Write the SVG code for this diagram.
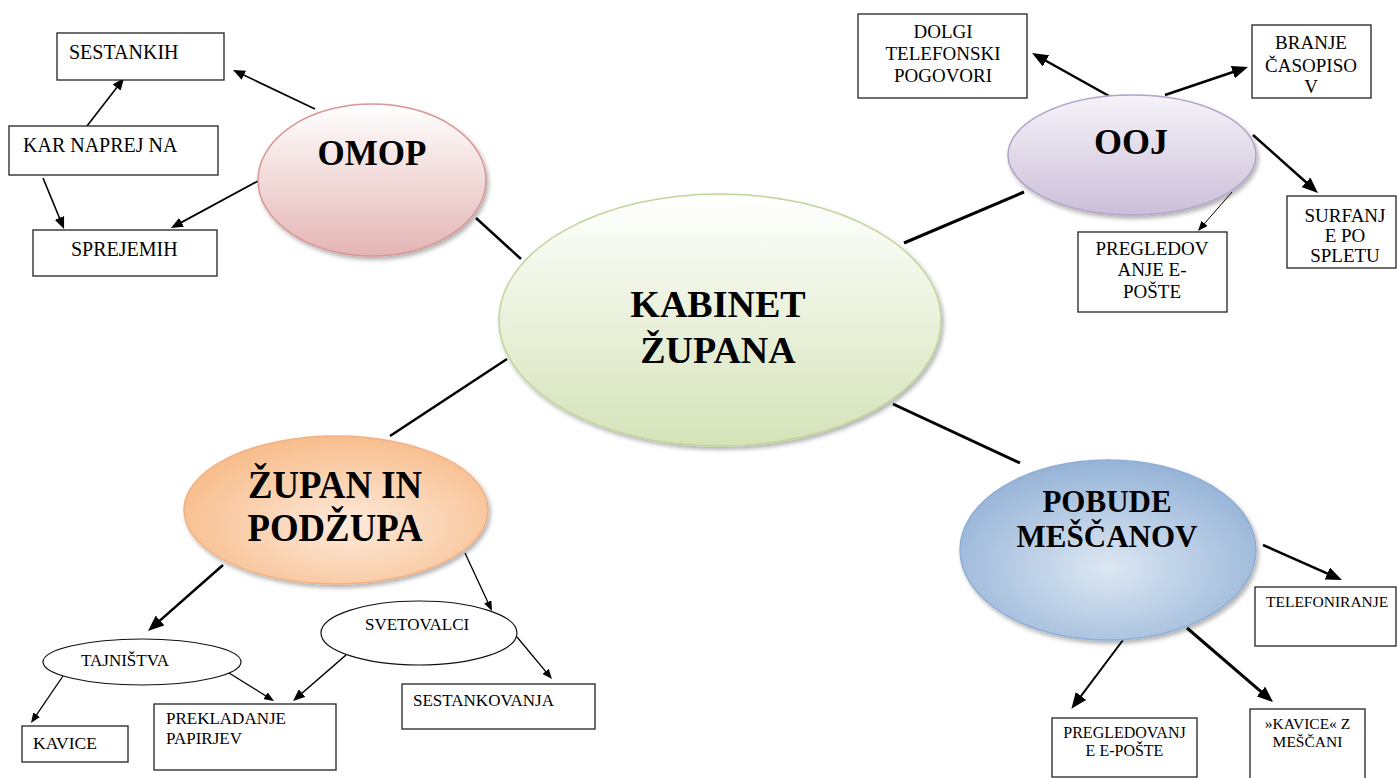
<svg xmlns="http://www.w3.org/2000/svg" width="1397" height="778" viewBox="0 0 1397 778">
<style>
.box{fill:#fff;stroke:#222;stroke-width:1.3}
.sm{fill:#fff;stroke:#111;stroke-width:1.2}
.t{font-family:"Liberation Serif","Times New Roman",serif;fill:#000}
.big{font-family:"Liberation Serif","Times New Roman",serif;font-weight:bold;fill:#000;text-anchor:middle}
.c{text-anchor:middle}
.ln{stroke:#000;fill:none}
</style>
<defs>
<marker id="hb" markerUnits="userSpaceOnUse" markerWidth="16" markerHeight="13" viewBox="0 0 16 13" refX="12" refY="6.5" orient="auto"><path d="M0,0 L16,6.5 L0,13 z" fill="#000"/></marker>
<marker id="hm" markerUnits="userSpaceOnUse" markerWidth="12" markerHeight="10" viewBox="0 0 12 10" refX="9" refY="5" orient="auto"><path d="M0,0 L12,5 L0,10 z" fill="#000"/></marker>
<marker id="hs" markerUnits="userSpaceOnUse" markerWidth="10" markerHeight="8" viewBox="0 0 10 8" refX="7.5" refY="4" orient="auto"><path d="M0,0 L10,4 L0,8 z" fill="#000"/></marker>
<linearGradient id="gGreen" x1="0" y1="0" x2="0" y2="1"><stop offset="0" stop-color="#ffffff"/><stop offset="1" stop-color="#d5e3b8"/></linearGradient>
<linearGradient id="gRed" x1="0" y1="0" x2="0" y2="1"><stop offset="0" stop-color="#ffffff"/><stop offset="1" stop-color="#e4b5b4"/></linearGradient>
<linearGradient id="gPurple" x1="0" y1="0" x2="0" y2="1"><stop offset="0" stop-color="#f6f3f9"/><stop offset="1" stop-color="#cbbfd9"/></linearGradient>
<radialGradient id="gOrange" cx="0.55" cy="0.6" r="0.6"><stop offset="0" stop-color="#fdeadb"/><stop offset="1" stop-color="#f8bd8c"/></radialGradient>
<radialGradient id="gBlue" cx="0.5" cy="0.6" r="0.6"><stop offset="0" stop-color="#dde7f3"/><stop offset="1" stop-color="#95b3d7"/></radialGradient>
<filter id="sh" x="-10%" y="-10%" width="125%" height="130%"><feDropShadow dx="2" dy="3" stdDeviation="2" flood-color="#000" flood-opacity="0.3"/></filter>
</defs>

<g id="connectors">
<line class="ln" x1="476" y1="218" x2="521" y2="259" stroke-width="2.5"/>
<line class="ln" x1="904" y1="243" x2="1024" y2="192" stroke-width="3"/>
<line class="ln" x1="507" y1="359" x2="390" y2="436" stroke-width="2.5"/>
<line class="ln" x1="893" y1="404" x2="1020" y2="463" stroke-width="3"/>

<line class="ln" x1="315" y1="109" x2="235.7" y2="71.3" stroke-width="1.6" marker-end="url(#hm)"/>
<line class="ln" x1="87" y1="126" x2="122.2" y2="80.4" stroke-width="1.6" marker-end="url(#hm)"/>
<line class="ln" x1="43" y1="178" x2="62.9" y2="226.2" stroke-width="1.6" marker-end="url(#hm)"/>
<line class="ln" x1="258" y1="181" x2="173.6" y2="226.6" stroke-width="1.8" marker-end="url(#hm)"/>

<line class="ln" x1="1109" y1="96" x2="1035.5" y2="55" stroke-width="2.5" marker-end="url(#hb)"/>
<line class="ln" x1="1165" y1="95" x2="1244.2" y2="68.3" stroke-width="2.5" marker-end="url(#hb)"/>
<line class="ln" x1="1253" y1="135" x2="1315" y2="190.3" stroke-width="2.5" marker-end="url(#hb)"/>
<line class="ln" x1="1232" y1="192" x2="1199.6" y2="229.1" stroke-width="1" marker-end="url(#hs)"/>

<line class="ln" x1="223" y1="565" x2="151" y2="628.4" stroke-width="2.5" marker-end="url(#hb)"/>
<line class="ln" x1="465" y1="553" x2="490.9" y2="608.7" stroke-width="1.3" marker-end="url(#hs)"/>
<line class="ln" x1="63" y1="676" x2="32.4" y2="720.9" stroke-width="1.3" marker-end="url(#hs)"/>
<line class="ln" x1="229" y1="673" x2="271.9" y2="699.7" stroke-width="1.3" marker-end="url(#hs)"/>
<line class="ln" x1="346" y1="655" x2="295.3" y2="699" stroke-width="1.6" marker-end="url(#hm)"/>
<line class="ln" x1="517" y1="637" x2="550.4" y2="677.1" stroke-width="1.3" marker-end="url(#hs)"/>

<line class="ln" x1="1263" y1="545" x2="1338.3" y2="578.4" stroke-width="2.5" marker-end="url(#hb)"/>
<line class="ln" x1="1123" y1="640" x2="1073.8" y2="705.6" stroke-width="2" marker-end="url(#hb)"/>
<line class="ln" x1="1187" y1="628" x2="1270" y2="699.4" stroke-width="3" marker-end="url(#hb)"/>
</g>

<g id="kabinet">
<ellipse cx="720" cy="320" rx="221" ry="126" fill="url(#gGreen)" stroke="#c0d59a" stroke-width="1.5" filter="url(#sh)"/>
<text class="big" x="718" y="317" font-size="38">KABINET</text>
<text class="big" x="718" y="363" font-size="38">ŽUPANA</text>
</g>

<g id="omop">
<ellipse cx="372" cy="180" rx="114" ry="76" fill="url(#gRed)" stroke="#d99694" stroke-width="1.5" filter="url(#sh)"/>
<text class="big" x="372" y="165" font-size="35">OMOP</text>
</g>

<g id="sestankih"><rect class="box" x="57" y="33" width="167" height="47"/><text class="t" x="69" y="59" font-size="20">SESTANKIH</text></g>
<g id="kar-naprej"><rect class="box" x="9" y="126" width="209" height="49"/><text class="t" x="23" y="152" font-size="20">KAR NAPREJ NA</text></g>
<g id="sprejemih"><rect class="box" x="33" y="230" width="184" height="46"/><text class="t" x="71" y="256" font-size="20">SPREJEMIH</text></g>

<g id="ooj">
<ellipse cx="1132" cy="155" rx="124" ry="60" fill="url(#gPurple)" stroke="#b3a2c8" stroke-width="1.5" filter="url(#sh)"/>
<text class="big" x="1131" y="154" font-size="36">OOJ</text>
</g>

<g id="dolgi"><rect class="box" x="858" y="14" width="169" height="84"/>
<text class="t c" x="943" y="38" font-size="19">DOLGI</text>
<text class="t c" x="943" y="60" font-size="19">TELEFONSKI</text>
<text class="t c" x="943" y="82" font-size="19">POGOVORI</text></g>

<g id="branje"><rect class="box" x="1252" y="25" width="119" height="73"/>
<text class="t c" x="1311" y="49" font-size="19">BRANJE</text>
<text class="t c" x="1311" y="72" font-size="19">ČASOPISO</text>
<text class="t c" x="1311" y="93" font-size="19">V</text></g>

<g id="pregledov"><rect class="box" x="1078" y="232" width="149" height="80"/>
<text class="t c" x="1152" y="255" font-size="19">PREGLEDOV</text>
<text class="t c" x="1152" y="276" font-size="19">ANJE E-</text>
<text class="t c" x="1152" y="298" font-size="19">POŠTE</text></g>

<g id="surfanje"><rect class="box" x="1287" y="196" width="109" height="72"/>
<text class="t c" x="1345" y="222" font-size="19">SURFANJ</text>
<text class="t c" x="1345" y="242" font-size="19">E PO</text>
<text class="t c" x="1345" y="262" font-size="19">SPLETU</text></g>

<g id="zupan">
<ellipse cx="336" cy="510" rx="152" ry="74" fill="url(#gOrange)" stroke="#f2b184" stroke-width="1.5" filter="url(#sh)"/>
<text class="big" x="335" y="498" font-size="39" textLength="174" lengthAdjust="spacingAndGlyphs">ŽUPAN IN</text>
<text class="big" x="335" y="541" font-size="39" textLength="175" lengthAdjust="spacingAndGlyphs">PODŽUPA</text>
</g>

<g id="tajnistva"><ellipse class="sm" cx="142" cy="662" rx="99" ry="23"/><text class="t" x="81" y="666" font-size="17">TAJNIŠTVA</text></g>
<g id="svetovalci"><ellipse class="sm" cx="419" cy="633" rx="98" ry="32"/><text class="t" x="365" y="630" font-size="17">SVETOVALCI</text></g>
<g id="kavice"><rect class="box" x="22" y="726" width="106" height="36"/><text class="t" x="33" y="749" font-size="17.5">KAVICE</text></g>
<g id="prekladanje"><rect class="box" x="154" y="704" width="182" height="66"/>
<text class="t" x="166" y="724" font-size="17">PREKLADANJE</text>
<text class="t" x="166" y="744" font-size="17">PAPIRJEV</text></g>
<g id="sestankovanja"><rect class="box" x="402" y="684" width="193" height="45"/><text class="t" x="413" y="706" font-size="17">SESTANKOVANJA</text></g>

<g id="pobude">
<ellipse cx="1108" cy="550" rx="148" ry="90" fill="url(#gBlue)" stroke="#8faed5" stroke-width="1.5" filter="url(#sh)"/>
<text class="big" x="1107" y="512" font-size="31">POBUDE</text>
<text class="big" x="1107" y="547" font-size="31">MEŠČANOV</text>
</g>

<g id="telefoniranje"><rect class="box" x="1255" y="587" width="141" height="59"/><text class="t" x="1266" y="607" font-size="15.5">TELEFONIRANJE</text></g>
<g id="pregledovanje"><rect class="box" x="1052" y="718" width="145" height="59"/>
<text class="t c" x="1124.5" y="738" font-size="16">PREGLEDOVANJ</text>
<text class="t c" x="1124.5" y="756" font-size="16">E E-POŠTE</text></g>
<g id="kavice-mescani"><rect class="box" x="1250" y="709" width="115" height="70"/>
<text class="t c" x="1307.5" y="729" font-size="15.5">»KAVICE« Z</text>
<text class="t c" x="1307.5" y="747" font-size="15.5">MEŠČANI</text></g>
</svg>
